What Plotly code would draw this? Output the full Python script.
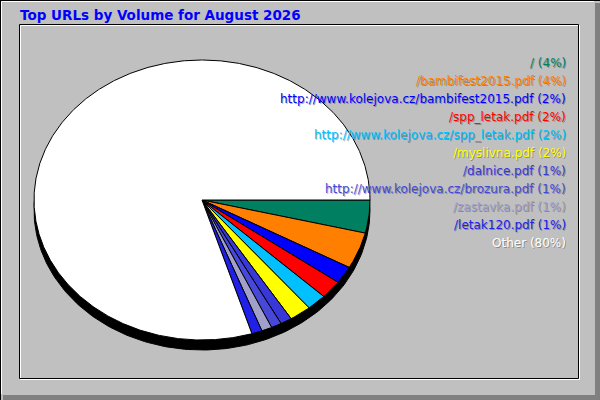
import numpy as np
import plotly.graph_objects as go

# data (share of volume, percent)
urls = [
    "/", "/bambifest2015.pdf", "http://www.kolejova.cz/bambifest2015.pdf",
    "/spp_letak.pdf", "http://www.kolejova.cz/spp_letak.pdf", "/myslivna.pdf",
    "/dalnice.pdf", "http://www.kolejova.cz/brozura.pdf", "/zastavka.pdf",
    "/letak120.pdf", "Other",
]
shares = [3.8, 4.2, 2.0, 2.1, 1.9, 2.1, 1.1, 1.0, 1.0, 1.0, 79.8]
colors = [
    "#008060", "#FF8000", "#0000FF", "#FF0000", "#00C0FF", "#FFFF00",
    "#3838D8", "#4848D8", "#A0A0C8", "#2020E8", "#FFFFFF",
]

W, H = 600, 400
CX, CY = 202, 200      # pie centre in pixels
RX, RY = 168, 140      # ellipse radii in pixels
DEPTH = 10             # shadow depth in pixels

fig = go.Figure()

# shadow under the pie
t = np.linspace(0, 2 * np.pi, 361)
fig.add_trace(go.Scatter(
    x=np.cos(t), y=np.sin(t) - DEPTH / RY,
    fill="toself", fillcolor="black", mode="lines",
    line=dict(color="black", width=1), hoverinfo="skip", showlegend=False,
))

total = sum(shares)
start = 0.0
for name, v, c in zip(urls, shares, colors):
    end = start + v / total * 2 * np.pi
    a = np.linspace(start, end, max(3, int(v * 8)))
    xs = np.concatenate([[0], np.cos(a), [0]])
    ys = np.concatenate([[0], -np.sin(a), [0]])
    fig.add_trace(go.Scatter(
        x=xs, y=ys, fill="toself", fillcolor=c, mode="lines",
        line=dict(color="black", width=1), name=name,
        hoverinfo="skip", showlegend=False,
    ))
    start = end

# legend text on the right
for i, (name, v, c) in enumerate(zip(urls, shares, colors)):
    fig.add_annotation(
        x=568 / W, y=1 - (63 + i * 18) / H, xref="paper", yref="paper",
        xanchor="right", yanchor="middle", showarrow=False,
        text=f"{name} ({v:.0f}%)",
        font=dict(family="DejaVu Sans", size=12, color=c,
                  shadow="1px 1px 0px rgba(0,0,0,0.3)"),
    )

# bevelled frame
px = lambda v: v / W
py = lambda v: 1 - v / H
frame = [
    dict(type="rect", x0=px(595), x1=1, y0=0, y1=py(3), fillcolor="#808080", line_width=0),
    dict(type="rect", x0=px(3), x1=1, y0=0, y1=py(395), fillcolor="#808080", line_width=0),
    dict(type="line", x0=0, x1=1, y0=py(0.5), y1=py(0.5), line=dict(color="black", width=1)),
    dict(type="line", x0=px(0.5), x1=px(0.5), y0=0, y1=1, line=dict(color="black", width=1)),
    dict(type="line", x0=px(1.5), x1=px(594), y0=py(1.5), y1=py(1.5), line=dict(color="white", width=1)),
    dict(type="line", x0=px(1.5), x1=px(1.5), y0=py(1.5), y1=py(394), line=dict(color="white", width=1)),
    dict(type="rect", x0=px(20.5), x1=px(579.5), y0=py(379.5), y1=py(25.5),
         line=dict(color="white", width=1)),
    dict(type="rect", x0=px(19.5), x1=px(578.5), y0=py(378.5), y1=py(24.5),
         line=dict(color="black", width=1)),
]
for s in frame:
    s.update(xref="paper", yref="paper", layer="below")

fig.update_layout(
    width=W, height=H,
    margin=dict(l=0, r=0, t=0, b=0),
    paper_bgcolor="#C0C0C0", plot_bgcolor="rgba(0,0,0,0)",
    title=dict(
        text="<b>Top URLs by Volume for August 2026</b>",
        x=20 / W, xanchor="left", y=1 - 15 / H, yanchor="middle",
        font=dict(family="DejaVu Sans", size=13.5, color="#0000FF"),
    ),
    xaxis=dict(range=[-CX / RX, (W - CX) / RX], visible=False, fixedrange=True),
    yaxis=dict(range=[-(H - CY) / RY, CY / RY], visible=False, fixedrange=True),
    shapes=frame,
)

fig.write_html(
    "out.html",
    config={"displayModeBar": False},
    post_script="document.body.style.margin='0';document.body.style.overflow='hidden';",
)
